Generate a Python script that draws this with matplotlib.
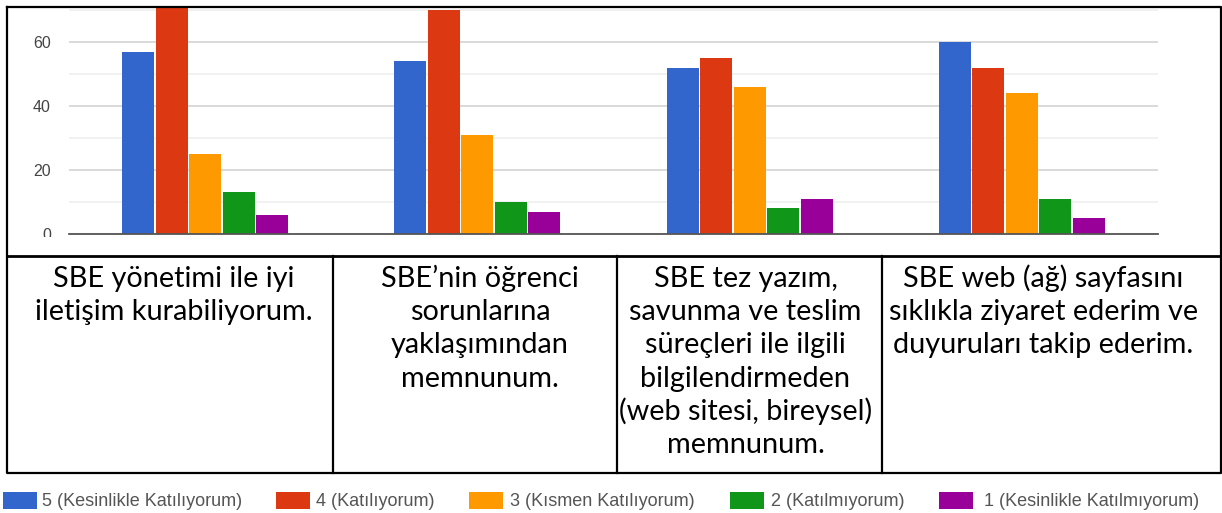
import numpy as np
import matplotlib
matplotlib.use('Agg')
import matplotlib.pyplot as plt
from matplotlib.patches import Rectangle

# veriler
statements = [
    "SBE yönetimi ile iyi\niletişim kurabiliyorum.",
    "SBE’nin öğrenci\nsorunlarına\nyaklaşımından\nmemnunum.",
    "SBE tez yazım,\nsavunma ve teslim\nsüreçleri ile ilgili\nbilgilendirmeden\n(web sitesi, bireysel)\nmemnunum.",
    "SBE web (ağ) sayfasını\nsıklıkla ziyaret ederim ve\nduyuruları takip ederim.",
]
series_names = [
    "5 (Kesinlikle Katılıyorum)",
    "4 (Katılıyorum)",
    "3 (Kısmen Katılıyorum)",
    "2 (Katılmıyorum)",
    "1 (Kesinlikle Katılmıyorum)",
]
k5 = [57, 54, 52, 60]
k4 = [73, 70, 55, 52]
k3 = [25, 31, 46, 44]
k2 = [13, 10, 8, 11]
k1 = [6, 7, 11, 5]
colors = ['#3366cc', '#dc3912', '#ff9900', '#109618', '#990099']

W, H = 1222, 513
fig = plt.figure(figsize=(W / 100, H / 100), dpi=100)

# grafik alanı
ax = fig.add_axes([69 / W, (H - 234) / H, 1089 / W, 227 / H])
x = np.arange(len(statements)) + 0.5
step = 0.1231
for j, vals in enumerate([k5, k4, k3, k2, k1]):
    ax.bar(x + (j - 2) * step, vals, width=step - 0.006, color=colors[j],
           zorder=3, edgecolor='none')

ax.set_xlim(0, 4)
ax.set_ylim(0, 70.9)
ax.set_yticks([0, 20, 40, 60])
ax.set_yticks([10, 30, 50, 70], minor=True)
ax.set_xticks([])
ax.grid(axis='y', which='major', color='#d9d9d9', linewidth=1.4, zorder=0)
ax.grid(axis='y', which='minor', color='#efefef', linewidth=1.2, zorder=0)
ax.tick_params(axis='y', which='both', length=0, pad=13, labelsize=11.5,
               labelcolor='#444444')
for t in ax.get_yticklabels():
    t.set_fontfamily('Liberation Sans')
for s in ['top', 'right', 'left']:
    ax.spines[s].set_visible(False)
ax.spines['bottom'].set_color('#555555')
ax.spines['bottom'].set_linewidth(1.3)
ax.spines['bottom'].set_zorder(4)

# tablo ve lejant (piksel koordinatları)
ov = fig.add_axes([0, 0, 1, 1], zorder=5)
ov.set_xlim(0, W)
ov.set_ylim(H, 0)
ov.axis('off')
ov.patch.set_alpha(0)

ov.add_patch(Rectangle((8, 236.5), 1212, 19, facecolor='white', edgecolor='none'))
lw = 1.6
ov.plot([7, 1221, 1221, 7, 7], [7, 7, 473, 473, 7], color='black', lw=lw)
ov.plot([7, 1221], [256, 256], color='black', lw=lw + 0.4)
col_edges = [7, 333, 617, 882, 1221]
text_shift = [4, 5, -4, -8]
for xe in col_edges[1:-1]:
    ov.plot([xe, xe], [256, 473], color='black', lw=lw)
for i, txt in enumerate(statements):
    cx = (col_edges[i] + col_edges[i + 1]) / 2 + text_shift[i]
    for k, line in enumerate(txt.split('\n')):
        ov.text(cx, 287 + k * 33.2, line, ha='center', va='baseline',
                fontsize=20.8, family='Lato', color='black')

rect_x = [3, 276, 469, 730, 939]
text_x = [42, 316, 510, 771, 984]
for j, name in enumerate(series_names):
    ov.add_patch(Rectangle((rect_x[j], 492), 34, 17, facecolor=colors[j],
                           edgecolor='none'))
    ov.text(text_x[j], 501, name, ha='left', va='center', fontsize=13,
            family='Liberation Sans', color='#555555')

fig.savefig('out.png', dpi=100)
